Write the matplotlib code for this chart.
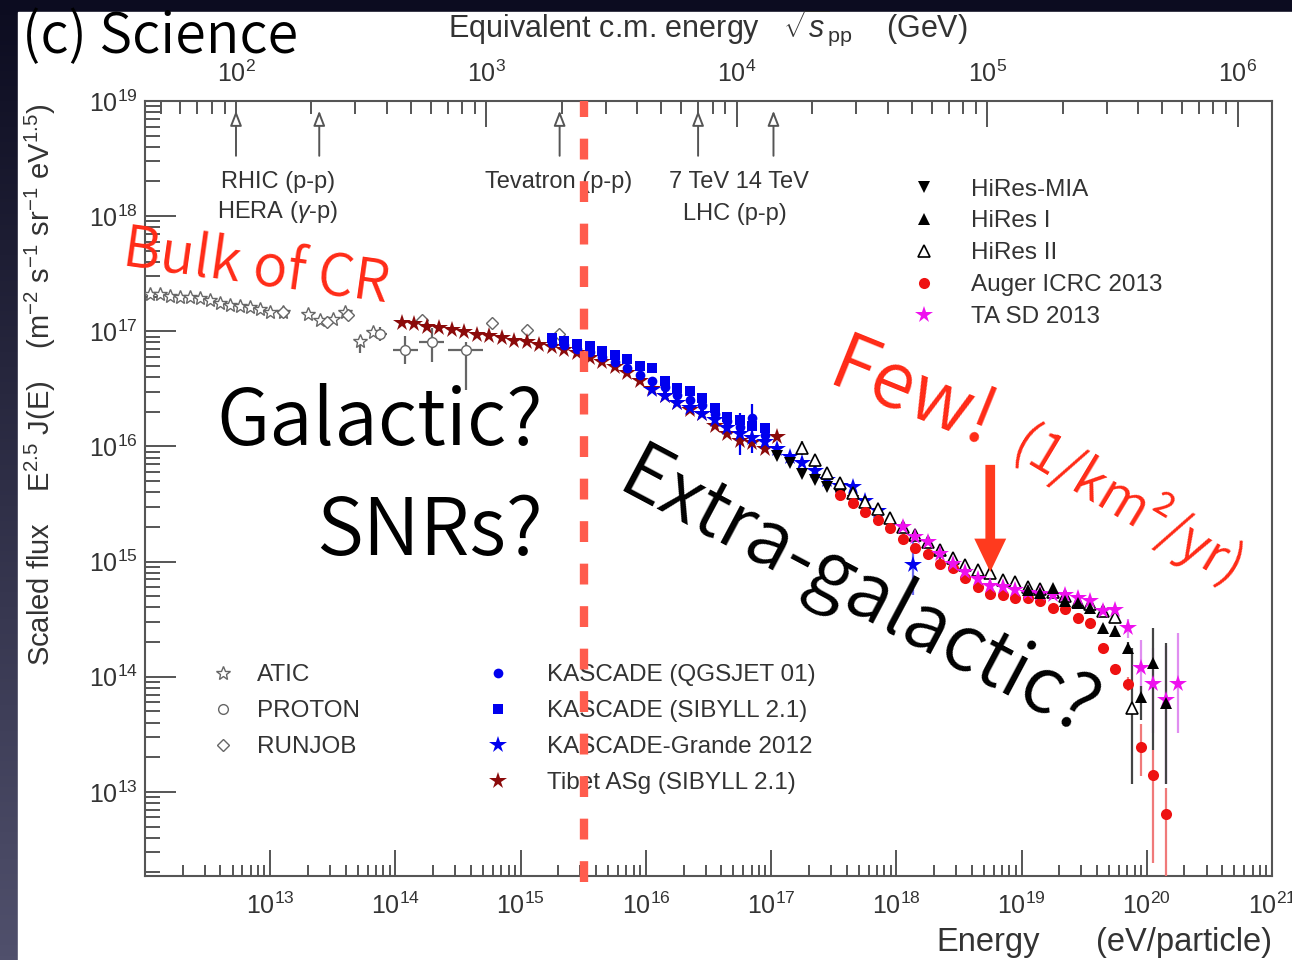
"""All-particle cosmic-ray spectrum scaled by E^2.5, with slide annotations."""
import matplotlib.pyplot as plt
import numpy as np
from matplotlib.lines import Line2D
from matplotlib.patches import Rectangle
from matplotlib.ticker import LogLocator, NullFormatter

plt.rcParams["font.family"] = ["Liberation Sans", "DejaVu Sans"]
plt.rcParams["mathtext.fontset"] = "custom"
plt.rcParams["mathtext.rm"] = "Liberation Sans"
plt.rcParams["mathtext.it"] = "Liberation Sans:italic"
plt.rcParams["mathtext.bf"] = "Liberation Sans:bold"

SLIDE_FONT = ["Noto Sans CJK JP", "DejaVu Sans"]
SLIDE_WEIGHT = 350

# ---------------------------------------------------------------------------
# Data: log10(E / eV) and log10(E^2.5 J(E) / m^-2 s^-1 sr^-1 eV^1.5)
# ---------------------------------------------------------------------------

ATIC_LOGE = [12.04, 12.12, 12.20, 12.28, 12.36, 12.44, 12.52, 12.60, 12.68, 12.76,
             12.84, 12.92, 13.00, 13.10, 13.30, 13.40, 13.50, 13.60, 13.72, 13.82]
ATIC_LOGF = [17.32, 17.32, 17.31, 17.30, 17.30, 17.29, 17.27, 17.25, 17.23, 17.22,
             17.21, 17.19, 17.17, 17.17, 17.15, 17.10, 17.11, 17.17, 16.92, 16.99]
ATIC_ERR_LO = [0, 0, 0, 0, 0, 0, 0, 0, 0, 0, 0, 0, 0, 0, 0, 0, 0, 0, 0.11, 0.03]
ATIC_ERR_HI = [0, 0, 0, 0, 0, 0, 0, 0, 0, 0, 0, 0, 0, 0, 0, 0, 0, 0, 0.04, 0.03]

PROTON_LOGE = [13.88, 14.08, 14.29, 14.56]
PROTON_LOGF = [16.98, 16.84, 16.91, 16.84]
PROTON_XERR = [0.05, 0.10, 0.10, 0.14]
PROTON_ERR_LO = [0.06, 0.12, 0.18, 0.35]
PROTON_ERR_HI = [0.06, 0.12, 0.12, 0.07]

RUNJOB_LOGE = [13.10, 13.45, 13.62, 14.21, 14.77, 15.05, 15.31]
RUNJOB_LOGF = [17.17, 17.08, 17.14, 17.10, 17.07, 17.01, 16.98]

KASCADE_LOGE = [15.25, 15.35, 15.45, 15.55, 15.65, 15.75, 15.85, 15.95, 16.05,
                16.15, 16.25, 16.35, 16.45, 16.55, 16.65, 16.75, 16.85, 16.95]
KASCADE_QGS_LOGF = [16.90, 16.88, 16.85, 16.82, 16.78, 16.73, 16.68, 16.62, 16.57,
                    16.52, 16.45, 16.40, 16.36, 16.28, 16.22, 16.17, 16.25, 16.10]
KASCADE_QGS_ERR_LO = [0, 0, 0, 0, 0, 0, 0, 0, 0, 0, 0, 0, 0.03, 0.05, 0.08, 0.24, 0.31, 0.10]
KASCADE_QGS_ERR_HI = [0, 0, 0, 0, 0, 0, 0, 0, 0, 0, 0, 0, 0.03, 0.05, 0.06, 0.12, 0.12, 0.10]
KASCADE_SIB_LOGF = [16.94, 16.92, 16.89, 16.87, 16.83, 16.79, 16.76, 16.70, 16.68,
                    16.57, 16.51, 16.48, 16.42, 16.33, 16.26, 16.23, 16.18, 16.16]

GRANDE_LOGE = [16.05, 16.15, 16.25, 16.35, 16.45, 16.55, 16.65, 16.75, 16.85, 16.95,
               17.05, 17.15, 17.25, 17.35, 17.45, 17.55, 17.65, 17.75, 17.85, 18.13]
GRANDE_LOGF = [16.49, 16.44, 16.38, 16.33, 16.28, 16.23, 16.16, 16.11, 16.07, 16.04,
               15.98, 15.91, 15.86, 15.79, 15.71, 15.66, 15.65, 15.53, 15.44, 14.97]
GRANDE_ERR_LO = [0, 0, 0, 0, 0, 0, 0, 0, 0, 0, 0, 0, 0, 0, 0, 0, 0, 0, 0.03, 0.26]
GRANDE_ERR_HI = [0, 0, 0, 0, 0, 0, 0, 0, 0, 0, 0, 0, 0, 0, 0, 0, 0, 0, 0.03, 0.22]

TIBET_LOGE = [14.05, 14.15, 14.25, 14.35, 14.45, 14.55, 14.65, 14.75, 14.85, 14.95,
              15.05, 15.15, 15.25, 15.35, 15.45, 15.55, 15.65, 15.75, 15.85, 15.95,
              16.05, 16.15, 16.25, 16.35, 16.45, 16.55, 16.65, 16.75, 16.85, 16.95, 17.05]
TIBET_LOGF = [17.07, 17.06, 17.04, 17.03, 17.01, 16.99, 16.97, 16.96, 16.94, 16.92,
              16.91, 16.88, 16.86, 16.84, 16.81, 16.77, 16.73, 16.69, 16.64, 16.57,
              16.50, 16.44, 16.38, 16.32, 16.28, 16.18, 16.11, 16.05, 16.03, 15.98, 16.08]

HIRES_MIA_LOGE = [17.05, 17.15, 17.25, 17.35, 17.45, 17.55, 17.65]
HIRES_MIA_LOGF = [15.92, 15.86, 15.76, 15.71, 15.65, 15.58, 15.53]

HIRES1_LOGE = [19.05, 19.15, 19.25, 19.35, 19.45, 19.55, 19.65, 19.75, 19.85, 19.95,
               20.05, 20.15]
HIRES1_LOGF = [14.75, 14.73, 14.77, 14.66, 14.64, 14.60, 14.42, 14.40, 14.25, 13.82,
               14.12, 13.77]
HIRES1_ERR_LO = [0, 0, 0, 0, 0, 0, 0.03, 0.04, 0.05, 0.20, 0.76, 0.70]
HIRES1_ERR_HI = [0, 0, 0, 0, 0, 0, 0.03, 0.04, 0.05, 0.10, 0.30, 0.52]

HIRES2_LOGE = [17.25, 17.35, 17.45, 17.55, 17.65, 17.75, 17.85, 17.95, 18.05, 18.15,
               18.25, 18.35, 18.45, 18.55, 18.65, 18.75, 18.85, 18.95, 19.05, 19.15,
               19.25, 19.35, 19.45, 19.55, 19.65, 19.75, 19.88]
HIRES2_LOGF = [15.99, 15.88, 15.77, 15.68, 15.60, 15.52, 15.46, 15.38, 15.30, 15.23,
               15.17, 15.10, 15.03, 14.97, 14.93, 14.90, 14.84, 14.82, 14.78, 14.76,
               14.74, 14.70, 14.65, 14.63, 14.57, 14.52, 13.73]
HIRES2_ERR_LO = [0.06, 0, 0, 0, 0, 0, 0, 0, 0, 0, 0, 0.12, 0, 0, 0, 0, 0, 0, 0, 0,
                 0, 0, 0, 0, 0.03, 0.04, 0.66]
HIRES2_ERR_HI = [0.06, 0, 0, 0, 0, 0, 0, 0, 0, 0, 0, 0.05, 0, 0, 0, 0, 0, 0, 0, 0,
                 0, 0, 0, 0, 0.03, 0.04, 0.52]

AUGER_LOGE = [17.55, 17.65, 17.75, 17.85, 17.95, 18.05, 18.15, 18.25, 18.35, 18.45,
              18.55, 18.65, 18.75, 18.85, 18.95, 19.05, 19.15, 19.25, 19.35, 19.45,
              19.55, 19.65, 19.75, 19.85, 19.95, 20.05, 20.15]
AUGER_LOGF = [15.58, 15.51, 15.43, 15.36, 15.29, 15.20, 15.12, 15.07, 14.98, 14.94,
              14.86, 14.78, 14.72, 14.71, 14.68, 14.68, 14.66, 14.60, 14.59, 14.51,
              14.47, 14.25, 14.07, 13.94, 13.39, 13.15, 12.81]
AUGER_ERR_LO = [0, 0, 0, 0, 0, 0, 0, 0, 0, 0, 0, 0, 0, 0, 0, 0, 0, 0, 0, 0,
                0.02, 0.03, 0.04, 0.06, 0.25, 0.77, 0.80]
AUGER_ERR_HI = [0, 0, 0, 0, 0, 0, 0, 0, 0, 0, 0, 0, 0, 0, 0, 0, 0, 0, 0, 0,
                0.02, 0.03, 0.04, 0.06, 0.20, 0.21, 0.22]

TA_LOGE = [18.05, 18.15, 18.25, 18.35, 18.45, 18.55, 18.65, 18.75, 18.85, 18.95,
           19.05, 19.15, 19.25, 19.35, 19.45, 19.55, 19.65, 19.75, 19.85, 19.95,
           20.05, 20.15, 20.25]
TA_LOGF = [15.30, 15.21, 15.17, 15.07, 14.98, 14.91, 14.85, 14.79, 14.78, 14.75,
           14.73, 14.72, 14.71, 14.71, 14.68, 14.66, 14.57, 14.58, 14.42, 14.08,
           13.94, 13.80, 13.94]
TA_ERR_LO = [0, 0, 0, 0, 0, 0, 0, 0, 0, 0, 0, 0, 0, 0, 0, 0, 0.03, 0.04, 0.08, 0.23,
             0.43, 0.73, 0.43]
TA_ERR_HI = [0, 0, 0, 0, 0, 0, 0, 0, 0, 0, 0, 0, 0, 0, 0, 0, 0.03, 0.04, 0.08, 0.24,
             0.31, 0.47, 0.44]

# Collider reference energies, sqrt(s) in GeV
COLLIDER_SQRTS = [100, 215, 1960, 7000, 14000]
KNEE_EV = 3.2e15
PROTON_MASS_GEV = 0.938272


def e_to_sqrts(e):
    """Lab-frame proton energy (eV) -> equivalent p-p c.m. energy (GeV)."""
    e = np.clip(np.asarray(e, dtype=float), 1e-30, None)
    return np.sqrt(2.0 * PROTON_MASS_GEV * e / 1e9)


def sqrts_to_e(s):
    s = np.asarray(s, dtype=float)
    return s ** 2 / (2.0 * PROTON_MASS_GEV) * 1e9


def plot_series(ax, loge, logf, style, err_lo=None, err_hi=None, xerr=None, ecolor=None):
    """Draw one data set, converting log10 values and dex errors to linear."""
    loge = np.asarray(loge, dtype=float)
    logf = np.asarray(logf, dtype=float)
    e = 10.0 ** loge
    f = 10.0 ** logf
    yerr = None
    if err_lo is not None:
        lo = np.asarray(err_lo, dtype=float)
        hi = np.asarray(err_hi, dtype=float)
        yerr = [f - 10.0 ** (logf - lo), 10.0 ** (logf + hi) - f]
    xe = None
    if xerr is not None:
        dx = np.asarray(xerr, dtype=float)
        xe = [e - 10.0 ** (loge - dx), 10.0 ** (loge + dx) - e]
    ax.errorbar(e, f, yerr=yerr, xerr=xe, ls="none", ecolor=ecolor or style.get("mec"),
                elinewidth=1.6, capsize=0, zorder=3, **style)


STYLE_ATIC = dict(marker="*", ms=10, mfc="white", mec="#666666", mew=1.0)
STYLE_PROTON = dict(marker="o", ms=7, mfc="white", mec="#666666", mew=1.0)
STYLE_RUNJOB = dict(marker="D", ms=6, mfc="white", mec="#666666", mew=1.0)
STYLE_KQGS = dict(marker="o", ms=7, mfc="#0000ee", mec="#0000ee", mew=0)
STYLE_KSIB = dict(marker="s", ms=7, mfc="#0000ee", mec="#0000ee", mew=0)
STYLE_GRANDE = dict(marker="*", ms=13, mfc="#0000ee", mec="#0000ee", mew=0)
STYLE_TIBET = dict(marker="*", ms=13, mfc="#8b0a0a", mec="#8b0a0a", mew=0)
STYLE_MIA = dict(marker="v", ms=8, mfc="black", mec="black", mew=0)
STYLE_HIRES1 = dict(marker="^", ms=8, mfc="black", mec="black", mew=0)
STYLE_HIRES2 = dict(marker="^", ms=9, mfc="white", mec="black", mew=1.2)
STYLE_AUGER = dict(marker="o", ms=8, mfc="#ee1111", mec="#ee1111", mew=0)
STYLE_TA = dict(marker="*", ms=13, mfc="#ee11ee", mec="#ee11ee", mew=0)


def proxy(style):
    return Line2D([], [], ls="none", **style)


fig = plt.figure(figsize=(12.92, 9.6), dpi=100)

# slide backdrop: dark frame with a white panel
bg = fig.add_axes([0, 0, 1, 1], zorder=-10)
grad = np.linspace(0, 1, 256)[:, None]
top_rgb = np.array([12, 12, 32]) / 255
bot_rgb = np.array([80, 80, 108]) / 255
bg.imshow(top_rgb + grad[..., None] * (bot_rgb - top_rgb), aspect="auto",
          extent=[0, 1, 0, 1])
bg.add_patch(Rectangle((18 / 1292, 0), 1, 1 - 12 / 960, color="white"))
bg.set_xlim(0, 1)
bg.set_ylim(0, 1)
bg.axis("off")

ax = fig.add_axes([145 / 1292, 84 / 960, 1127 / 1292, 775 / 960])
ax.set_xscale("log")
ax.set_yscale("log")
ax.set_xlim(1e12, 1e21)
ax.set_ylim(1.86e12, 1e19)

plot_series(ax, ATIC_LOGE, ATIC_LOGF, STYLE_ATIC, ATIC_ERR_LO, ATIC_ERR_HI)
plot_series(ax, PROTON_LOGE, PROTON_LOGF, STYLE_PROTON, PROTON_ERR_LO, PROTON_ERR_HI,
            xerr=PROTON_XERR)
plot_series(ax, RUNJOB_LOGE, RUNJOB_LOGF, STYLE_RUNJOB)
plot_series(ax, TIBET_LOGE, TIBET_LOGF, STYLE_TIBET)
plot_series(ax, KASCADE_LOGE, KASCADE_SIB_LOGF, STYLE_KSIB)
plot_series(ax, KASCADE_LOGE, KASCADE_QGS_LOGF, STYLE_KQGS, KASCADE_QGS_ERR_LO,
            KASCADE_QGS_ERR_HI)
plot_series(ax, GRANDE_LOGE, GRANDE_LOGF, STYLE_GRANDE, GRANDE_ERR_LO, GRANDE_ERR_HI,
            ecolor="#6a6af0")
plot_series(ax, HIRES_MIA_LOGE, HIRES_MIA_LOGF, STYLE_MIA)
plot_series(ax, HIRES2_LOGE, HIRES2_LOGF, STYLE_HIRES2, HIRES2_ERR_LO, HIRES2_ERR_HI,
            ecolor="#444444")
plot_series(ax, AUGER_LOGE, AUGER_LOGF, STYLE_AUGER, AUGER_ERR_LO, AUGER_ERR_HI,
            ecolor="#f07a7a")
plot_series(ax, TA_LOGE, TA_LOGF, STYLE_TA, TA_ERR_LO, TA_ERR_HI, ecolor="#e08ef0")
plot_series(ax, HIRES1_LOGE, HIRES1_LOGF, STYLE_HIRES1, HIRES1_ERR_LO, HIRES1_ERR_HI,
            ecolor="#444444")

# axes styling (ROOT-like inward ticks)
for side in ("left", "right", "top", "bottom"):
    ax.spines[side].set_color("#555555")
    ax.spines[side].set_linewidth(1.5)
ax.set_xticks([10.0 ** k for k in range(13, 22)])
ax.set_yticks([10.0 ** k for k in range(13, 20)])
ax.xaxis.set_minor_locator(LogLocator(base=10, subs=range(2, 10), numticks=30))
ax.yaxis.set_minor_locator(LogLocator(base=10, subs=range(2, 10), numticks=30))
ax.xaxis.set_minor_formatter(NullFormatter())
ax.yaxis.set_minor_formatter(NullFormatter())
ax.tick_params(which="both", direction="in", top=False, right=False, color="#555555",
               labelcolor="#333333", labelsize=18, width=1.4)
ax.tick_params(axis="x", which="major", length=19, pad=12)
ax.tick_params(axis="x", which="minor", length=8)
ax.tick_params(axis="y", which="major", length=22, pad=5)
ax.tick_params(axis="y", which="minor", length=11)

secax = ax.secondary_xaxis("top", functions=(e_to_sqrts, sqrts_to_e))
secax.xaxis.set_major_locator(LogLocator(base=10, numticks=20))
secax.xaxis.set_minor_locator(LogLocator(base=10, subs=range(2, 10), numticks=30))
secax.xaxis.set_minor_formatter(NullFormatter())
secax.tick_params(which="both", direction="in", color="#555555", labelcolor="#333333",
                  labelsize=18, width=1.4)
secax.tick_params(which="major", length=19, pad=10)
secax.tick_params(which="minor", length=9)
secax.spines["top"].set_visible(False)

# collider energies on the top scale
arrow_tail, arrow_head = 10 ** 18.50, 10 ** 18.94
for sqs in COLLIDER_SQRTS:
    e = float(sqrts_to_e(sqs))
    ax.annotate("", xy=(e, arrow_head), xytext=(e, arrow_tail),
                arrowprops=dict(arrowstyle="-|>,head_length=0.9,head_width=0.35",
                                fc="white", ec="#555555", lw=1.4), zorder=4)
label_kw = dict(fontsize=17, color="#333333", ha="center", va="center", zorder=4)
ax.text(10 ** 13.06, 10 ** 18.30, "RHIC (p-p)", **label_kw)
ax.text(10 ** 13.06, 10 ** 18.04, r"HERA ($\gamma$-p)", **label_kw)
ax.text(10 ** 15.30, 10 ** 18.30, "Tevatron (p-p)", **label_kw)
ax.text(10 ** 16.74, 10 ** 18.30, "7 TeV 14 TeV", **label_kw)
ax.text(10 ** 16.71, 10 ** 18.02, "LHC (p-p)", **label_kw)

# legends
leg_kw = dict(frameon=False, fontsize=17.5, handlelength=1.0, borderaxespad=0,
              borderpad=0, labelcolor="#333333", numpoints=1)
leg1 = ax.legend([proxy(STYLE_ATIC), proxy(STYLE_PROTON), proxy(STYLE_RUNJOB)],
                 ["ATIC", "PROTON", "RUNJOB"], loc="upper left",
                 bbox_to_anchor=(0.0586, 0.2735), handletextpad=0.9, labelspacing=0.58,
                 **leg_kw)
leg2 = ax.legend([proxy(STYLE_KQGS), proxy(STYLE_KSIB), proxy(STYLE_GRANDE),
                  proxy(STYLE_TIBET)],
                 ["KASCADE (QGSJET 01)", "KASCADE (SIBYLL 2.1)", "KASCADE-Grande 2012",
                  "Tibet ASg (SIBYLL 2.1)"], loc="upper left",
                 bbox_to_anchor=(0.3026, 0.2735), handletextpad=1.5, labelspacing=0.58,
                 **leg_kw)
leg3 = ax.legend([proxy(STYLE_MIA), proxy(STYLE_HIRES1), proxy(STYLE_HIRES2),
                  proxy(STYLE_AUGER), proxy(STYLE_TA)],
                 ["HiRes-MIA", "HiRes I", "HiRes II", "Auger ICRC 2013", "TA SD 2013"],
                 loc="upper left", bbox_to_anchor=(0.680, 0.900), handletextpad=1.45,
                 labelspacing=0.41, **leg_kw)
ax.add_artist(leg1)
ax.add_artist(leg2)

# knee marker
ax.axvline(KNEE_EV, ymin=-0.008, ymax=1.0, color="#ff5c4d", lw=6, dashes=(2.5, 2.6),
           clip_on=False, zorder=6)

# slide annotations
note_kw = dict(family=SLIDE_FONT, weight=SLIDE_WEIGHT, zorder=7)
ax.text(10 ** 12.89, 10 ** 17.55, "Bulk of CR", color="#ff2a16", fontsize=41,
        rotation=-8, ha="center", va="center", **note_kw)
ax.text(10 ** 15.18, 10 ** 16.20, "Galactic?", color="black", fontsize=56,
        ha="right", va="center", **note_kw)
ax.text(10 ** 15.18, 10 ** 15.25, "SNRs?", color="black", fontsize=57,
        ha="right", va="center", **note_kw)
ax.text(10 ** 17.69, 10 ** 14.71, "Extra-galactic?", color="black", fontsize=56,
        rotation=-28, ha="center", va="center", rotation_mode="anchor", **note_kw)
ax.text(10 ** 18.13, 10 ** 16.44, "Few!", color="#ff2a16", fontsize=56, rotation=-22,
        ha="center", va="center", rotation_mode="anchor", **note_kw)
ax.text(10 ** 19.85, 10 ** 15.48, "(1/km²/yr)", color="#ff2a16", fontsize=39,
        rotation=-31, ha="center", va="center", rotation_mode="anchor", **note_kw)
ax.annotate("", xy=(10 ** 18.75, 10 ** 14.91), xytext=(10 ** 18.75, 10 ** 15.84),
            arrowprops=dict(arrowstyle="simple,tail_width=0.7,head_width=2.3,head_length=2.4",
                            mutation_scale=10, fc="#ff3a1e", ec="none", shrinkA=0, shrinkB=0),
            zorder=7)

# axis titles
fig.text(22 / 1292, 1 - 37 / 960, "(c) Science", fontsize=40, color="black",
         ha="left", va="center", family=SLIDE_FONT, weight=SLIDE_WEIGHT)
fig.text(708 / 1292, 1 - 28 / 960,
         r"Equivalent c.m. energy   $\sqrt{s}_{\mathrm{pp}}$    (GeV)",
         fontsize=22, color="#333333", ha="center", va="center")
fig.text(40 / 1292, 1 - 385 / 960,
         r"Scaled flux    E$^{2.5}$ J(E)    (m$^{-2}$ s$^{-1}$ sr$^{-1}$ eV$^{1.5}$)",
         fontsize=21, color="#333333", rotation=90, ha="center", va="center")
fig.text(988 / 1292, 1 - 942 / 960, "Energy", fontsize=23.5, color="#333333",
         ha="center", va="center")
fig.text(1272 / 1292, 1 - 942 / 960, "(eV/particle)", fontsize=23.5, color="#333333",
         ha="right", va="center")

fig.savefig("out.png", dpi=100)
